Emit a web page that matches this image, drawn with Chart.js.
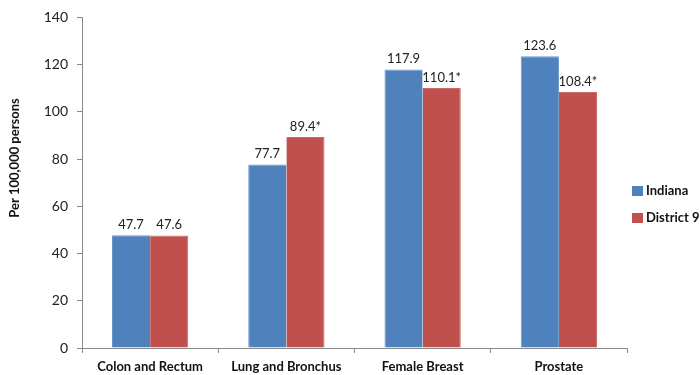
<!DOCTYPE html>
<html>
<head>
<meta charset="utf-8">
<script src="https://cdn.jsdelivr.net/npm/chart.js@4/dist/chart.umd.min.js"></script>
<style>
  html, body { margin: 0; padding: 0; background: #fff; }
  #wrap { width: 700px; height: 375px; position: relative; }
</style>
</head>
<body>
<div id="wrap"><canvas id="c"></canvas></div>
<script>
// Cancer incidence rates per 100,000 persons
const categories = ['Colon and Rectum', 'Lung and Bronchus', 'Female Breast', 'Prostate'];
const indianaRates = [47.7, 77.7, 117.9, 123.6];
const district9Rates = [47.6, 89.4, 110.1, 108.4];
const district9Flags = ['', '*', '*', '*'];   // * marks a significant difference
const seriesNames = ['Indiana', 'District 9'];
const yAxisTitle = 'Per 100,000 persons';

const FONT = "Lato, 'Open Sans', sans-serif";

// Value labels above each bar
const valueLabels = {
  id: 'valueLabels',
  afterDatasetsDraw(chart) {
    const ctx = chart.ctx;
    ctx.save();
    ctx.font = '13px ' + FONT;
    ctx.fillStyle = '#222';
    ctx.textAlign = 'center';
    ctx.textBaseline = 'bottom';
    chart.data.datasets.forEach((ds, di) => {
      chart.getDatasetMeta(di).data.forEach((bar, i) => {
        const suffix = di === 1 ? district9Flags[i] : '';
        ctx.fillText(ds.data[i].toFixed(1) + suffix, bar.x, bar.y - 4);
      });
    });
    ctx.restore();
  }
};

// Legend beside the plot, plus the rotated y-axis title
const sideDecor = {
  id: 'sideDecor',
  afterDraw(chart) {
    const ctx = chart.ctx;
    ctx.save();
    ctx.font = 'bold 13px ' + FONT;
    ctx.textBaseline = 'middle';
    ctx.textAlign = 'left';
    chart.data.datasets.forEach((ds, i) => {
      const y = 191 + i * 27;
      ctx.fillStyle = ds.backgroundColor;
      ctx.fillRect(632, y - 5, 11, 10);
      ctx.fillStyle = '#111';
      ctx.fillText(ds.label, 646, y);
    });

    ctx.translate(15, 158);
    ctx.rotate(-Math.PI / 2);
    ctx.textAlign = 'center';
    ctx.fillText(yAxisTitle, 0, 0);
    ctx.restore();
  }
};

new Chart(document.getElementById('c'), {
  type: 'bar',
  data: {
    labels: categories,
    datasets: [
      { label: seriesNames[0], data: indianaRates, backgroundColor: '#4F81BD',
        borderColor: '#6E96C8', borderWidth: { top: 1, left: 1, right: 0, bottom: 0 } },
      { label: seriesNames[1], data: district9Rates, backgroundColor: '#C0504D',
        borderColor: '#C96C69', borderWidth: { top: 1, left: 0, right: 1, bottom: 0 } }
    ]
  },
  options: {
    responsive: true,
    maintainAspectRatio: false,
    animation: false,
    layout: { padding: { top: 16, right: 73, bottom: 0, left: 0 } },
    plugins: {
      legend: { display: false },
      tooltip: { enabled: false }
    },
    datasets: {
      bar: { categoryPercentage: 0.56, barPercentage: 1.0 }
    },
    scales: {
      x: {
        afterFit(scale) { scale.height = 27; },
        grid: {
          display: true, drawOnChartArea: false, drawTicks: true,
          tickLength: 5, color: '#888', offset: true
        },
        border: { color: '#888', width: 1 },
        ticks: {
          font: { family: FONT, size: 13, weight: 'bold' },
          color: '#111', padding: 6, maxRotation: 0, autoSkip: false
        }
      },
      y: {
        min: 0, max: 140,
        afterFit(scale) { scale.width = 82; },
        grid: {
          display: true, drawOnChartArea: false, drawTicks: true,
          tickLength: 5, color: '#888'
        },
        border: { color: '#888', width: 1 },
        ticks: {
          stepSize: 20,
          font: { family: FONT, size: 14 },
          color: '#222', padding: 9
        }
      }
    }
  },
  plugins: [valueLabels, sideDecor]
});
</script>
</body>
</html>
